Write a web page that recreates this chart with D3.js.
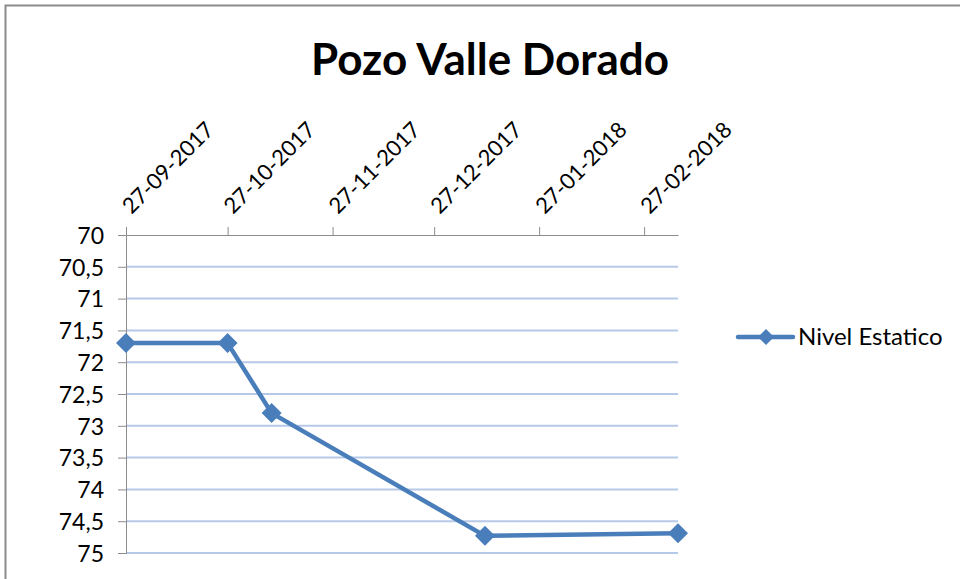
<!DOCTYPE html>
<html>
<head>
<meta charset="utf-8">
<script src="https://cdn.jsdelivr.net/npm/d3@7"></script>
<style>
    body { margin: 0; background: #fff; }
    .chart text { font-family: Lato, "Open Sans", sans-serif; fill: #000; }
</style>
</head>
<body>
<div class="chart"></div>
<script>
//data
var fechas = ["2017-09-27", "2017-10-27", "2017-11-09", "2018-01-11", "2018-03-09"];
var nivel = [71.7, 71.7, 72.8, 74.73, 74.69];
var tickFechas = ["2017-09-27", "2017-10-27", "2017-11-27", "2017-12-27", "2018-01-27", "2018-02-27"];
var tickLabels = ["27-09-2017", "27-10-2017", "27-11-2017", "27-12-2017", "27-01-2018", "27-02-2018"];
var yTicks = [70, 70.5, 71, 71.5, 72, 72.5, 73, 73.5, 74, 74.5, 75];
var titulo = "Pozo Valle Dorado";
var serie = "Nivel Estatico";

function chart() {

    var margin = {
            top: 235,
            right: 282,
            bottom: 26,
            left: 126
        },
        width = 960 - margin.left - margin.right,
        height = 579 - margin.top - margin.bottom;

    var color = "#4a7ebb";
    var parse = d3.timeParse("%Y-%m-%d");

    var data = fechas.map(function (f, i) {
        return { fecha: parse(f), nivel: nivel[i] };
    });

    //setup x (date axis on top)
    var xScale = d3.scaleTime()
        .domain(d3.extent(data, function (d) { return d.fecha; }))
        .range([0, width]);

    //setup y (reversed, 70 on top)
    var yScale = d3.scaleLinear()
        .domain([70, 75])
        .range([0, height]);

    var svgRoot = d3.select(".chart").append("svg")
        .attr("width", 960)
        .attr("height", 579);

    //chart frame, cut off at right and bottom
    svgRoot.append("rect")
        .attr("x", 5.5)
        .attr("y", 5.5)
        .attr("width", 1000)
        .attr("height", 1000)
        .style("fill", "none")
        .style("stroke", "#8c8c8c")
        .style("stroke-width", 2);

    //title
    svgRoot.append("text")
        .attr("x", 490)
        .attr("y", 75)
        .style("text-anchor", "middle")
        .style("font-size", "44px")
        .style("font-weight", "bold")
        .text(titulo);

    var svg = svgRoot.append("g")
        .attr("transform", "translate(" + margin.left + "," + margin.top + ")");

    //gridlines
    svg.selectAll(".grid")
        .data(yTicks.slice(1))
        .enter().append("line")
        .attr("class", "grid")
        .attr("x1", 0)
        .attr("x2", width)
        .attr("y1", function (d) { return yScale(d); })
        .attr("y2", function (d) { return yScale(d); })
        .style("stroke", "#b7c9e8")
        .style("stroke-width", 2);

    // y-axis
    var yAxis = d3.axisLeft(yScale)
        .tickValues(yTicks)
        .tickSize(8)
        .tickPadding(14)
        .tickFormat(function (d) { return String(d).replace(".", ","); });

    var gy = svg.append("g")
        .attr("class", "y axis")
        .call(yAxis);
    gy.select(".domain").style("stroke", "#8c8c8c");
    gy.selectAll(".tick line").style("stroke", "#8c8c8c");
    gy.selectAll("text")
        .style("font-size", "23px")
        .attr("dy", "0.36em");

    //x-axis on top
    var xAxis = d3.axisTop(xScale)
        .tickValues(tickFechas.map(parse))
        .tickSize(8)
        .tickSizeOuter(0)
        .tickFormat(function (d, i) { return tickLabels[i]; });

    var gx = svg.append("g")
        .attr("class", "x axis")
        .call(xAxis);
    gx.select(".domain").style("stroke", "#8c8c8c");
    gx.selectAll(".tick line").style("stroke", "#8c8c8c");
    gx.selectAll("text")
        .style("font-size", "22px")
        .style("text-anchor", "start")
        .attr("x", 0)
        .attr("y", 0)
        .attr("dy", 0)
        .attr("transform", "translate(5,-20) rotate(-45)");

    // draw line
    var line = d3.line()
        .x(function (d) { return xScale(d.fecha); })
        .y(function (d) { return yScale(d.nivel); });

    svg.append("path")
        .datum(data)
        .attr("d", line)
        .style("fill", "none")
        .style("stroke", color)
        .style("stroke-width", 4.5)
        .style("stroke-linejoin", "round");

    // draw diamonds
    var diamond = d3.symbol().type(d3.symbolSquare).size(200);
    svg.selectAll(".dot")
        .data(data)
        .enter().append("path")
        .attr("class", "dot")
        .attr("d", diamond)
        .attr("transform", function (d) {
            return "translate(" + xScale(d.fecha) + "," + yScale(d.nivel) + ") rotate(45)";
        })
        .style("fill", color);

    // draw legend
    var legend = svgRoot.append("g")
        .attr("class", "legend")
        .attr("transform", "translate(738,337)");

    legend.append("line")
        .attr("x1", 0)
        .attr("x2", 55)
        .style("stroke", color)
        .style("stroke-width", 4.5)
        .style("stroke-linecap", "round");

    legend.append("path")
        .attr("d", d3.symbol().type(d3.symbolSquare).size(130))
        .attr("transform", "translate(28,0) rotate(45)")
        .style("fill", color);

    legend.append("text")
        .attr("x", 60)
        .attr("y", 0)
        .attr("dy", ".35em")
        .style("font-size", "24px")
        .text(serie);
}

chart();
</script>
</body>
</html>
